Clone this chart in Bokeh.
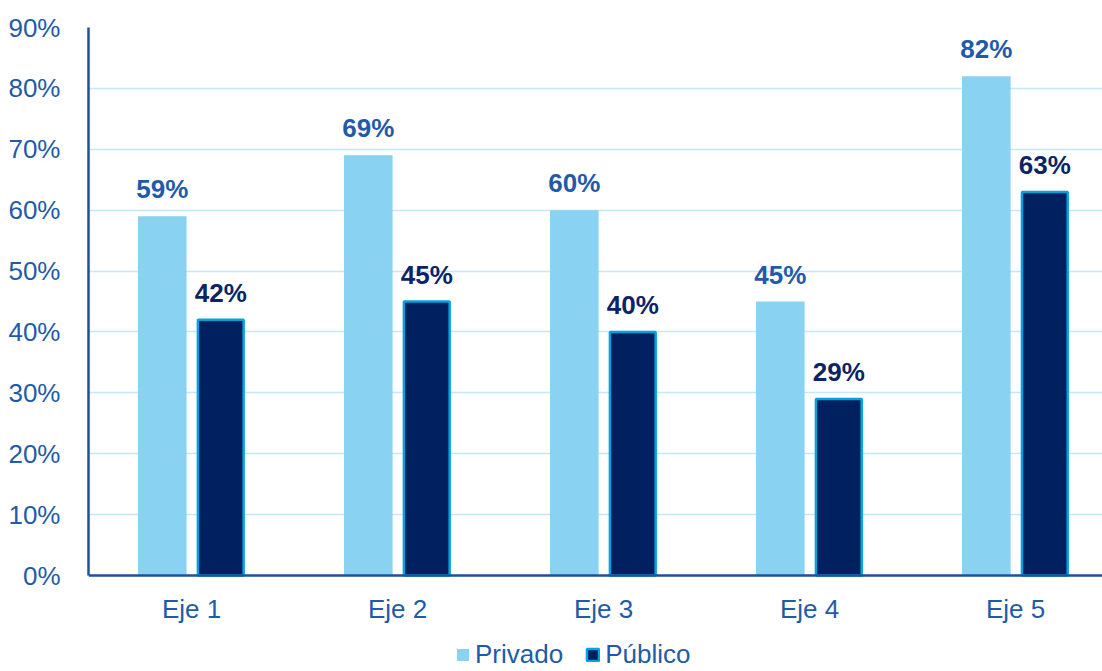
from bokeh.plotting import figure
from bokeh.models import (Range1d, FixedTicker, PrintfTickFormatter, Legend, LegendItem,
                          ColumnDataSource, LabelSet)
from bokeh.core.properties import value
from bokeh.embed import file_html
from bokeh.resources import INLINE

# Data
categories = ["Eje 1", "Eje 2", "Eje 3", "Eje 4", "Eje 5"]
privado = [59, 69, 60, 45, 82]
publico = [42, 45, 40, 29, 63]
y_ticks = [0, 10, 20, 30, 40, 50, 60, 70, 80, 90]

FONT = "Liberation Sans"
C_PRIV = "#8AD2F1"
C_PUB = "#00205F"
C_PUB_EDGE = "#00A3E0"
C_TEXT = "#1F5BA8"
C_AXIS = "#1F4F9E"
C_GRID = "#C4E8F7"

centers = [i + 0.5 for i in range(len(categories))]
off = 0.142

src_priv = ColumnDataSource(dict(
    x=[c - off for c in centers], top=privado,
    lab=[f"{v}%" for v in privado]))
src_pub = ColumnDataSource(dict(
    x=[c + off for c in centers], top=publico,
    lab=[f"{v}%" for v in publico]))

# frame extends below zero so the legend can sit inside it, under the category labels
FRAME_H = 644
PLOT_H = 548
y_start = -(FRAME_H - PLOT_H) * 90 / PLOT_H

p = figure(frame_width=1014, frame_height=FRAME_H, output_backend="svg",
           toolbar_location=None,
           x_range=Range1d(0, 4.922), y_range=Range1d(y_start, 90),
           min_border_left=88, min_border_right=0, min_border_top=27,
           min_border_bottom=0)
p.outline_line_color = None
p.background_fill_color = "white"
p.border_fill_color = "white"

r_priv = p.vbar(x="x", top="top", width=0.236, bottom=0, source=src_priv,
                fill_color=C_PRIV, line_color=None)
r_pub = p.vbar(x="x", top="top", width=0.222, bottom=0, source=src_pub,
               fill_color=C_PUB, line_color=C_PUB_EDGE, line_width=2.5)

p.add_layout(LabelSet(x="x", y="top", text="lab", source=src_priv,
                      text_align="center", text_baseline="bottom", y_offset=12,
                      text_font=value(FONT), text_font_style="bold",
                      text_font_size="26px", text_color=C_TEXT))
p.add_layout(LabelSet(x="x", y="top", text="lab", source=src_pub,
                      text_align="center", text_baseline="bottom", y_offset=12,
                      text_font=value(FONT), text_font_style="bold",
                      text_font_size="26px", text_color="#0B2466"))

# Axes
p.yaxis.ticker = FixedTicker(ticks=y_ticks)
p.yaxis.bounds = (0, 90)
p.yaxis.formatter = PrintfTickFormatter(format="%d%%")
p.yaxis.major_tick_line_color = None
p.yaxis.minor_tick_line_color = None
p.yaxis.axis_line_color = C_AXIS
p.yaxis.axis_line_width = 2.5
p.yaxis.major_label_text_font = FONT
p.yaxis.major_label_text_font_size = "26px"
p.yaxis.major_label_text_color = C_TEXT
p.yaxis.major_label_standoff = 22

p.xaxis.fixed_location = 0
p.xaxis.ticker = FixedTicker(ticks=centers)
p.xaxis.major_label_overrides = {c: n for c, n in zip(centers, categories)}
p.xaxis.major_tick_line_color = None
p.xaxis.minor_tick_line_color = None
p.xaxis.axis_line_color = C_AXIS
p.xaxis.axis_line_width = 2.5
p.xaxis.major_label_text_font = FONT
p.xaxis.major_label_text_font_size = "26px"
p.xaxis.major_label_text_color = C_TEXT
p.xaxis.major_label_standoff = 12

p.xgrid.grid_line_color = None
p.ygrid.ticker = FixedTicker(ticks=y_ticks)
p.ygrid.grid_line_color = C_GRID
p.ygrid.grid_line_width = 1.5

legend = Legend(items=[LegendItem(label="Privado", renderers=[r_priv]),
                       LegendItem(label="Público", renderers=[r_pub])],
                orientation="horizontal", location=(367, 1),
                label_text_font=FONT, label_text_font_size="26px",
                label_text_color=C_TEXT, glyph_width=15, glyph_height=15,
                label_standoff=5, spacing=22, padding=0, margin=0,
                border_line_color=None, background_fill_alpha=0)
p.add_layout(legend, "center")

open("out.html", "w").write(file_html(p, INLINE))
